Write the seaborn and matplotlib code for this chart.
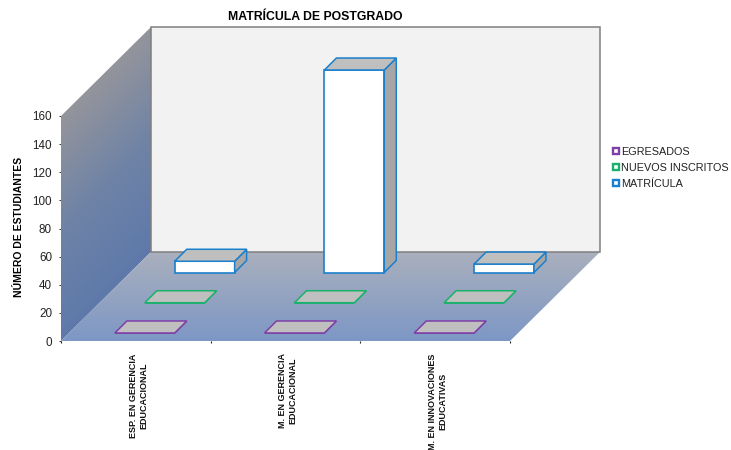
import numpy as np
import pandas as pd
import seaborn as sns
import matplotlib.pyplot as plt
from matplotlib.colors import LinearSegmentedColormap
from matplotlib.patches import Polygon

# Chart data
TITLE = 'MATRÍCULA DE POSTGRADO'
Y_LABEL = 'NÚMERO DE ESTUDIANTES'
PROGRAMS = ['ESP. EN GERENCIA\nEDUCACIONAL', 'M. EN GERENCIA\nEDUCACIONAL', 'M. EN INNOVACIONES\nEDUCATIVAS']
SERIES = ['EGRESADOS', 'NUEVOS INSCRITOS', 'MATRÍCULA']
EGRESADOS = [0, 0, 0]
NUEVOS_INSCRITOS = [0, 0, 0]
MATRICULA = [8, 144, 6]
Y_TICKS = [0, 20, 40, 60, 80, 100, 120, 140, 160]

# Style
EDGE_COLORS = ['#7f3fa8', '#18b26b', '#1a7fcc']
W, H = 731, 450
LEFT, RIGHT, BOTTOM, TOP = 61, 510, 341, 116
DEPTH_X = 90 / 149.67   # full chart depth in category units
DEPTH_Y = 89 / 1.406    # full chart depth in value units
BAR_W = 0.40
BAR_DX = 12 / 149.67
BAR_DY = 12 / 1.406
FRONT_X = 0.06
FRONT_Y = 5.7
STEP_X = 0.2
STEP_Y = 21.5

sns.set_style('white')
plt.rcParams['font.family'] = ['Liberation Sans', 'DejaVu Sans']

fig = plt.figure(figsize=(W / 100, H / 100), dpi=100)
ax = fig.add_axes([LEFT / W, 1 - BOTTOM / H, (RIGHT - LEFT) / W, (BOTTOM - TOP) / H])

x_max = len(PROGRAMS)
y_max = Y_TICKS[-1]


def gradient(poly_pts, extent, field, colors, zorder):
    # gradient fill clipped to a wall of the box
    cmap = LinearSegmentedColormap.from_list('wall', colors)
    im = ax.imshow(field, extent=extent, origin='lower', aspect='auto', cmap=cmap,
                   vmin=0, vmax=1, zorder=zorder, interpolation='bilinear')
    poly = Polygon(poly_pts, closed=True, transform=ax.transData, fill=False, lw=0)
    ax.add_patch(poly)
    poly.set_clip_on(False)
    im.set_clip_box(fig.bbox)
    im.set_clip_path(poly)


# left wall
xs, ys = np.meshgrid(np.linspace(0, DEPTH_X, 60), np.linspace(0, y_max + DEPTH_Y, 200))
wall_t = np.clip((ys - xs / DEPTH_X * DEPTH_Y) / y_max, 0, 1)
gradient([(0, 0), (DEPTH_X, DEPTH_Y), (DEPTH_X, y_max + DEPTH_Y), (0, y_max)],
         [0, DEPTH_X, 0, y_max + DEPTH_Y], wall_t, ['#5e79aa', '#6f83a6', '#94959b'], 1)

# floor
ys2 = np.linspace(0, 1, 100).reshape(-1, 1)
gradient([(0, 0), (x_max, 0), (x_max + DEPTH_X, DEPTH_Y), (DEPTH_X, DEPTH_Y)],
         [0, x_max + DEPTH_X, 0, DEPTH_Y], ys2, ['#7d97c5', '#aab0bd'], 1)

# back wall
ax.add_patch(Polygon([(DEPTH_X, DEPTH_Y), (x_max + DEPTH_X, DEPTH_Y),
                      (x_max + DEPTH_X, y_max + DEPTH_Y), (DEPTH_X, y_max + DEPTH_Y)],
                     closed=True, facecolor='#f2f2f2', edgecolor='#7f7f7f', lw=1.1,
                     clip_on=False, zorder=1.5))

# bars, back series first so the front ones overlap them
centers = np.arange(len(PROGRAMS)) + 0.5
all_values = [EGRESADOS, NUEVOS_INSCRITOS, MATRICULA]
for k in reversed(range(len(SERIES))):
    df = pd.DataFrame({'pos': centers, 'value': all_values[k]})
    sns.barplot(data=df, x='pos', y='value', native_scale=True, width=BAR_W, color='white',
                saturation=1, edgecolor=EDGE_COLORS[k], linewidth=1.2, label=SERIES[k],
                ax=ax, zorder=3 + (2 - k))
    ox = FRONT_X + k * STEP_X
    oy = FRONT_Y + k * STEP_Y
    for bar in ax.containers[-1]:
        bar.set_x(bar.get_x() + ox)
        bar.set_y(oy)
        bar.set_clip_on(False)
        x0, x1 = bar.get_x(), bar.get_x() + bar.get_width()
        y0, y1 = oy, oy + bar.get_height()
        top = [(x0, y1), (x1, y1), (x1 + BAR_DX, y1 + BAR_DY), (x0 + BAR_DX, y1 + BAR_DY)]
        side = [(x1, y0), (x1 + BAR_DX, y0 + BAR_DY), (x1 + BAR_DX, y1 + BAR_DY), (x1, y1)]
        ax.add_patch(Polygon(side, closed=True, facecolor='#a6a6a6', edgecolor=EDGE_COLORS[k],
                             lw=1.1, clip_on=False, zorder=3 + (2 - k)))
        ax.add_patch(Polygon(top, closed=True, facecolor='#bfbfbf', edgecolor=EDGE_COLORS[k],
                             lw=1.1, clip_on=False, zorder=3 + (2 - k)))

ax.set_xlim(0, x_max)
ax.set_ylim(0, y_max)
ax.set_xlabel('')
ax.set_ylabel(Y_LABEL, fontsize=7.5, fontweight='bold', labelpad=6, color='black', y=0.505)
for s in ax.spines.values():
    s.set_visible(False)
ax.set_yticks(Y_TICKS)
ax.tick_params(axis='y', left=True, length=1.5, width=0.7, labelsize=8.4, color='#333333',
               labelcolor='#222222', pad=5)
ax.set_xticks(np.arange(x_max + 1))
ax.set_xticklabels([])
ax.set_xticks(centers + 0.017, minor=True)
ax.set_xticklabels(PROGRAMS, minor=True, rotation=90, fontsize=6.5, fontweight='bold',
                   va='top', ha='center', multialignment='center', color='#111111')
ax.tick_params(axis='x', which='major', bottom=True, length=1.5, width=0.8, color='#222222')
ax.tick_params(axis='x', which='minor', bottom=False, length=0, pad=9)

fig.text(315 / W, 1 - 17 / H, TITLE, fontsize=8.8, fontweight='bold', ha='center', va='center', color='black')

handles, labels = ax.get_legend_handles_labels()
order = [labels.index(s) for s in SERIES]
leg = ax.legend([handles[i] for i in order], [labels[i] for i in order],
                loc='center left', bbox_to_anchor=(613 / W, 1 - 168 / H), bbox_transform=fig.transFigure,
                frameon=False, fontsize=7.85, handlelength=0.55, handleheight=0.55, handletextpad=0.2,
                labelspacing=0.55, borderpad=0, borderaxespad=0, labelcolor='#222222')
for patch in leg.get_patches():
    patch.set_linewidth(1.7)

fig.savefig('out.png', dpi=100)
